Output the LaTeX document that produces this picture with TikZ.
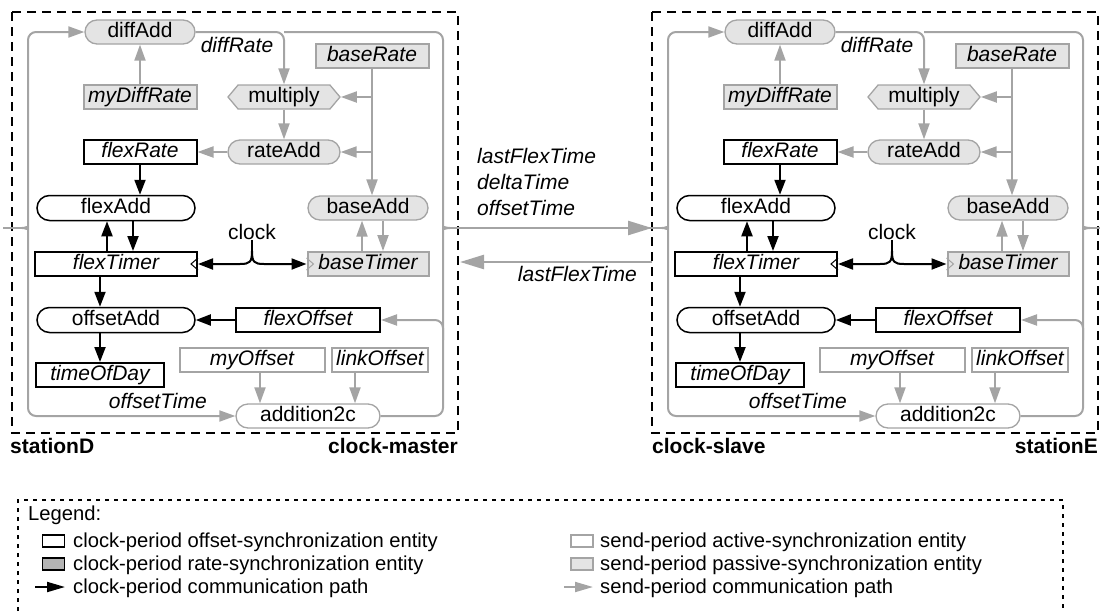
\documentclass[tikz,border=0pt]{standalone}
\usepackage{fontspec}
\setmainfont{Liberation Sans}
\usetikzlibrary{arrows.meta,shapes.misc,shapes.symbols}

\definecolor{sendgray}{HTML}{A4A4A4}
\definecolor{passfill}{HTML}{E4E4E4}
\definecolor{ratefill}{HTML}{B4B4B4}

\newcommand\fs{\fontsize{21}{25}\selectfont}
\newcommand\lfs{\fontsize{20.2}{24}\selectfont}

\tikzset{
  lbl/.style={font=\fs, inner sep=0pt},
  ilbl/.style={font=\fs\itshape, inner sep=0pt},
  blbl/.style={font=\fs\bfseries, inner sep=0pt},
  leglbl/.style={font=\lfs, inner sep=0pt},
  entity/.style={inner sep=0pt, text height=15pt, text depth=4.5pt, minimum height=24pt},
  clkbox/.style={entity, rectangle, draw=black, line width=2pt, fill=white, font=\fs\itshape},
  clkpill/.style={entity, rounded rectangle, draw=black, line width=1.5pt, fill=white, font=\fs, minimum height=25pt},
  actbox/.style={entity, rectangle, draw=sendgray, line width=2pt, fill=white, font=\fs\itshape},
  actpill/.style={entity, rounded rectangle, draw=sendgray, line width=1.3pt, fill=white, font=\fs},
  passbox/.style={entity, rectangle, draw=sendgray, line width=2pt, fill=passfill, font=\fs\itshape},
  passpill/.style={entity, rounded rectangle, draw=sendgray, line width=1.3pt, fill=passfill, font=\fs},
  passhex/.style={entity, signal, signal to=east and west, signal pointer angle=100, draw=sendgray, line width=1.3pt, fill=passfill, font=\fs},
  clkline/.style={draw=black, line width=2pt},
  clkarrow/.style={clkline, -{Triangle[length=15pt,width=11pt]}},
  clkmark/.style={draw=black, line width=1pt},
  sendline/.style={draw=sendgray, line width=2pt},
  sendarrow/.style={sendline, -{Triangle[length=16pt,width=11pt]}},
  sendmark/.style={draw=sendgray, line width=1pt},
  linkarrow/.style={sendline, line width=2.5pt, -{Triangle[length=24pt,width=14pt]}},
  stationframe/.style={draw=black, line width=2pt, dash pattern=on 9pt off 6pt},
  legendframe/.style={draw=black, line width=1.5pt, dash pattern=on 4pt off 5pt},
  legicon/.style={line width=1.5pt, minimum width=22pt, minimum height=12pt, inner sep=0pt},
}

% One clock station; #1 is the prefix of its node names
\newcommand\drawstation[1]{%
  % rate entities
  \node[passpill, minimum width=110pt] (#1diffAdd) at (140,32) {diffAdd};
  \node[passbox, minimum width=113pt] (#1myDiffRate) at (140,97) {myDiffRate};
  \node[clkbox, minimum width=113pt] (#1flexRate) at (140,152) {flexRate};
  \node[passbox, minimum width=113pt] (#1baseRate) at (372,56) {baseRate};
  \node[passhex, minimum width=112pt] (#1multiply) at (284,97) {multiply};
  \node[passpill, minimum width=112pt] (#1rateAdd) at (284,152) {rateAdd};
  \node[passpill, minimum width=120pt] (#1baseAdd) at (368,208) {baseAdd};
  \node[passbox, minimum width=121pt] (#1baseTimer) at (368,264) {baseTimer};
  % offset entities
  \node[clkpill, minimum width=158pt] (#1flexAdd) at (116,208) {flexAdd};
  \node[clkbox, minimum width=162pt] (#1flexTimer) at (116,264) {flexTimer};
  \node[clkpill, minimum width=158pt] (#1offsetAdd) at (116,320) {offsetAdd};
  \node[clkbox, minimum width=128pt] (#1timeOfDay) at (100,375) {timeOfDay};
  \node[clkbox, minimum width=144pt] (#1flexOffset) at (308,320) {flexOffset};
  \node[actbox, minimum width=145pt] (#1myOffset) at (252,360) {myOffset};
  \node[actbox, minimum width=96pt] (#1linkOffset) at (380,360) {linkOffset};
  \node[actpill, minimum width=144pt] (#1addition2c) at (308,416) {addition2c};
  % clock inputs of the timers
  \draw[clkmark] ([yshift=6pt]#1flexTimer.east) -- ([xshift=-7pt]#1flexTimer.east) -- ([yshift=-6pt]#1flexTimer.east);
  \draw[sendmark] ([yshift=6pt]#1baseTimer.west) -- ([xshift=7pt]#1baseTimer.west) -- ([yshift=-6pt]#1baseTimer.west);
  % clock distribution
  \node[lbl] (#1clock) at (252,232) {clock};
  \coordinate (#1cusp) at (252,251);
  \draw[clkline] (#1clock.south) -- (#1cusp);
  \draw[clkarrow] (#1cusp) .. controls (252,262) and (250,264) .. (240,264) -- (#1flexTimer.east);
  \draw[clkarrow] (#1cusp) .. controls (252,262) and (254,264) .. (264,264) -- (#1baseTimer.west);
  % clock-period paths
  \draw[clkarrow] (#1flexRate.south) -- (#1flexRate.south |- #1flexAdd.north);
  \draw[clkarrow] ([xshift=-9pt]#1flexTimer.north) -- ([xshift=-9pt]#1flexAdd.south);
  \draw[clkarrow] ([xshift=17pt]#1flexAdd.south) -- ([xshift=17pt]#1flexTimer.north);
  \draw[clkarrow] (#1timeOfDay.north |- #1flexTimer.south) -- (#1timeOfDay.north |- #1offsetAdd.north);
  \draw[clkarrow] (#1timeOfDay.north |- #1offsetAdd.south) -- (#1timeOfDay.north);
  \draw[clkarrow] (#1flexOffset.west) -- (#1offsetAdd.east);
  % send-period paths
  \draw[sendarrow] (#1myDiffRate.north) -- (#1diffAdd.south);
  \draw[sendarrow, rounded corners=8pt] (#1diffAdd.east) -- (#1multiply.north |- #1diffAdd.east) -- (#1multiply.north);
  \draw[sendarrow] (#1multiply.south) -- (#1rateAdd.north);
  \draw[sendarrow] (#1rateAdd.west) -- (#1flexRate.east);
  \draw[sendarrow] (#1baseRate.south) -- (#1baseRate.south |- #1baseAdd.north);
  \draw[sendarrow] (#1baseRate.south |- #1multiply.east) -- (#1multiply.east);
  \draw[sendarrow] (#1baseRate.south |- #1rateAdd.east) -- (#1rateAdd.east);
  \draw[sendarrow] ([xshift=-6pt]#1baseTimer.north) -- ([xshift=-6pt]#1baseAdd.south);
  \draw[sendarrow] ([xshift=15pt]#1baseAdd.south) -- ([xshift=15pt]#1baseTimer.north);
  \draw[sendarrow] ([xshift=8pt]#1myOffset.south) -- ([xshift=8pt]#1myOffset.south |- #1addition2c.north);
  \draw[sendarrow] ([xshift=-25pt]#1linkOffset.south) -- ([xshift=-25pt]#1linkOffset.south |- #1addition2c.north);
  % station ports
  \coordinate (#1L) at (22,228);
  \coordinate (#1R) at (450,228);
  \draw[sendline] (3,228) -- (#1L);
  \draw[sendline] (#1R) -- (460,228);
  \draw[sendarrow, rounded corners=8pt] (#1L) .. controls (26,228) and (28,226) .. (28,219) -- (28,32) -- (#1diffAdd.west);
  \draw[sendarrow, rounded corners=8pt] (#1L) .. controls (26,228) and (28,230) .. (28,237) -- (28,416) -- (#1addition2c.west);
  \draw[sendline, rounded corners=8pt] (#1multiply.north |- #1diffAdd.east) -- (443,32) -- (443,219) .. controls (443,226) and (445,228) .. (#1R);
  \draw[sendline, rounded corners=8pt] (#1addition2c.east) -- (443,416) -- (443,237) .. controls (443,230) and (445,228) .. (#1R);
  \draw[sendarrow, rounded corners=8pt] (443,340) -- (443,320) -- (#1flexOffset.east);
  % path labels
  \node[ilbl] (#1diffRate) at (237,45) {diffRate};
  \node[ilbl, anchor=east] (#1offsetTime) at (207,401) {offsetTime};
}

\begin{document}
\begin{tikzpicture}[x=1pt, y=-1pt]
  \useasboundingbox (0,0) rectangle (1101,611);

  % station frames
  \draw[stationframe] (12,12) rectangle (458,433);
  \draw[stationframe] (652,12) rectangle (1098,433);

  \begin{scope}
    \drawstation{D-}
  \end{scope}
  \begin{scope}[xshift=640pt]
    \drawstation{E-}
  \end{scope}

  % station captions
  \node[blbl, anchor=base west] (capD) at (10,453) {stationD};
  \node[blbl, anchor=base east] (roleD) at (458,453) {clock-master};
  \node[blbl, anchor=base west] (roleE) at (652,453) {clock-slave};
  \node[blbl, anchor=base east] (capE) at (1098,453) {stationE};

  % links between the stations
  \coordinate (Ein) at (652,228);
  \coordinate (Eout) at (652,262);
  \coordinate (Din) at (460,262);
  \draw[linkarrow] (D-R) -- (Ein);
  \draw[linkarrow] (Eout) -- (Din);
  \node[ilbl, anchor=west] (m1) at (477,156) {lastFlexTime};
  \node[ilbl, anchor=west] (m2) at (477,182) {deltaTime};
  \node[ilbl, anchor=west] (m3) at (477,208) {offsetTime};
  \node[ilbl, anchor=east] (m4) at (637,274) {lastFlexTime};

  % legend
  \draw[legendframe] (18,611) -- (18,500) -- (1063,500) -- (1063,611);
  \node[leglbl, anchor=base west] (lgtitle) at (28,520) {Legend:};
  \node[legicon, draw=black, fill=white] (lg1) at (53.5,541) {};
  \node[legicon, draw=black, fill=ratefill] (lg2) at (53.5,564) {};
  \coordinate (lg3a) at (35,587);
  \coordinate (lg3b) at (65,587);
  \draw[clkline, -{Triangle[length=18pt,width=10pt]}] (lg3a) -- (lg3b);
  \node[leglbl, anchor=base west] (lt1) at (73,547) {clock-period offset-synchronization entity};
  \node[leglbl, anchor=base west] (lt2) at (73,570) {clock-period rate-synchronization entity};
  \node[leglbl, anchor=base west] (lt3) at (73,593) {clock-period communication path};
  \node[legicon, draw=sendgray, fill=white] (lg4) at (582,541) {};
  \node[legicon, draw=sendgray, fill=passfill] (lg5) at (582,564) {};
  \coordinate (lg6a) at (564,587);
  \coordinate (lg6b) at (593,587);
  \draw[sendline, -{Triangle[length=18pt,width=10pt]}] (lg6a) -- (lg6b);
  \node[leglbl, anchor=base west] (lt4) at (600,547) {send-period active-synchronization entity};
  \node[leglbl, anchor=base west] (lt5) at (600,570) {send-period passive-synchronization entity};
  \node[leglbl, anchor=base west] (lt6) at (600,593) {send-period communication path};
\end{tikzpicture}
\end{document}
